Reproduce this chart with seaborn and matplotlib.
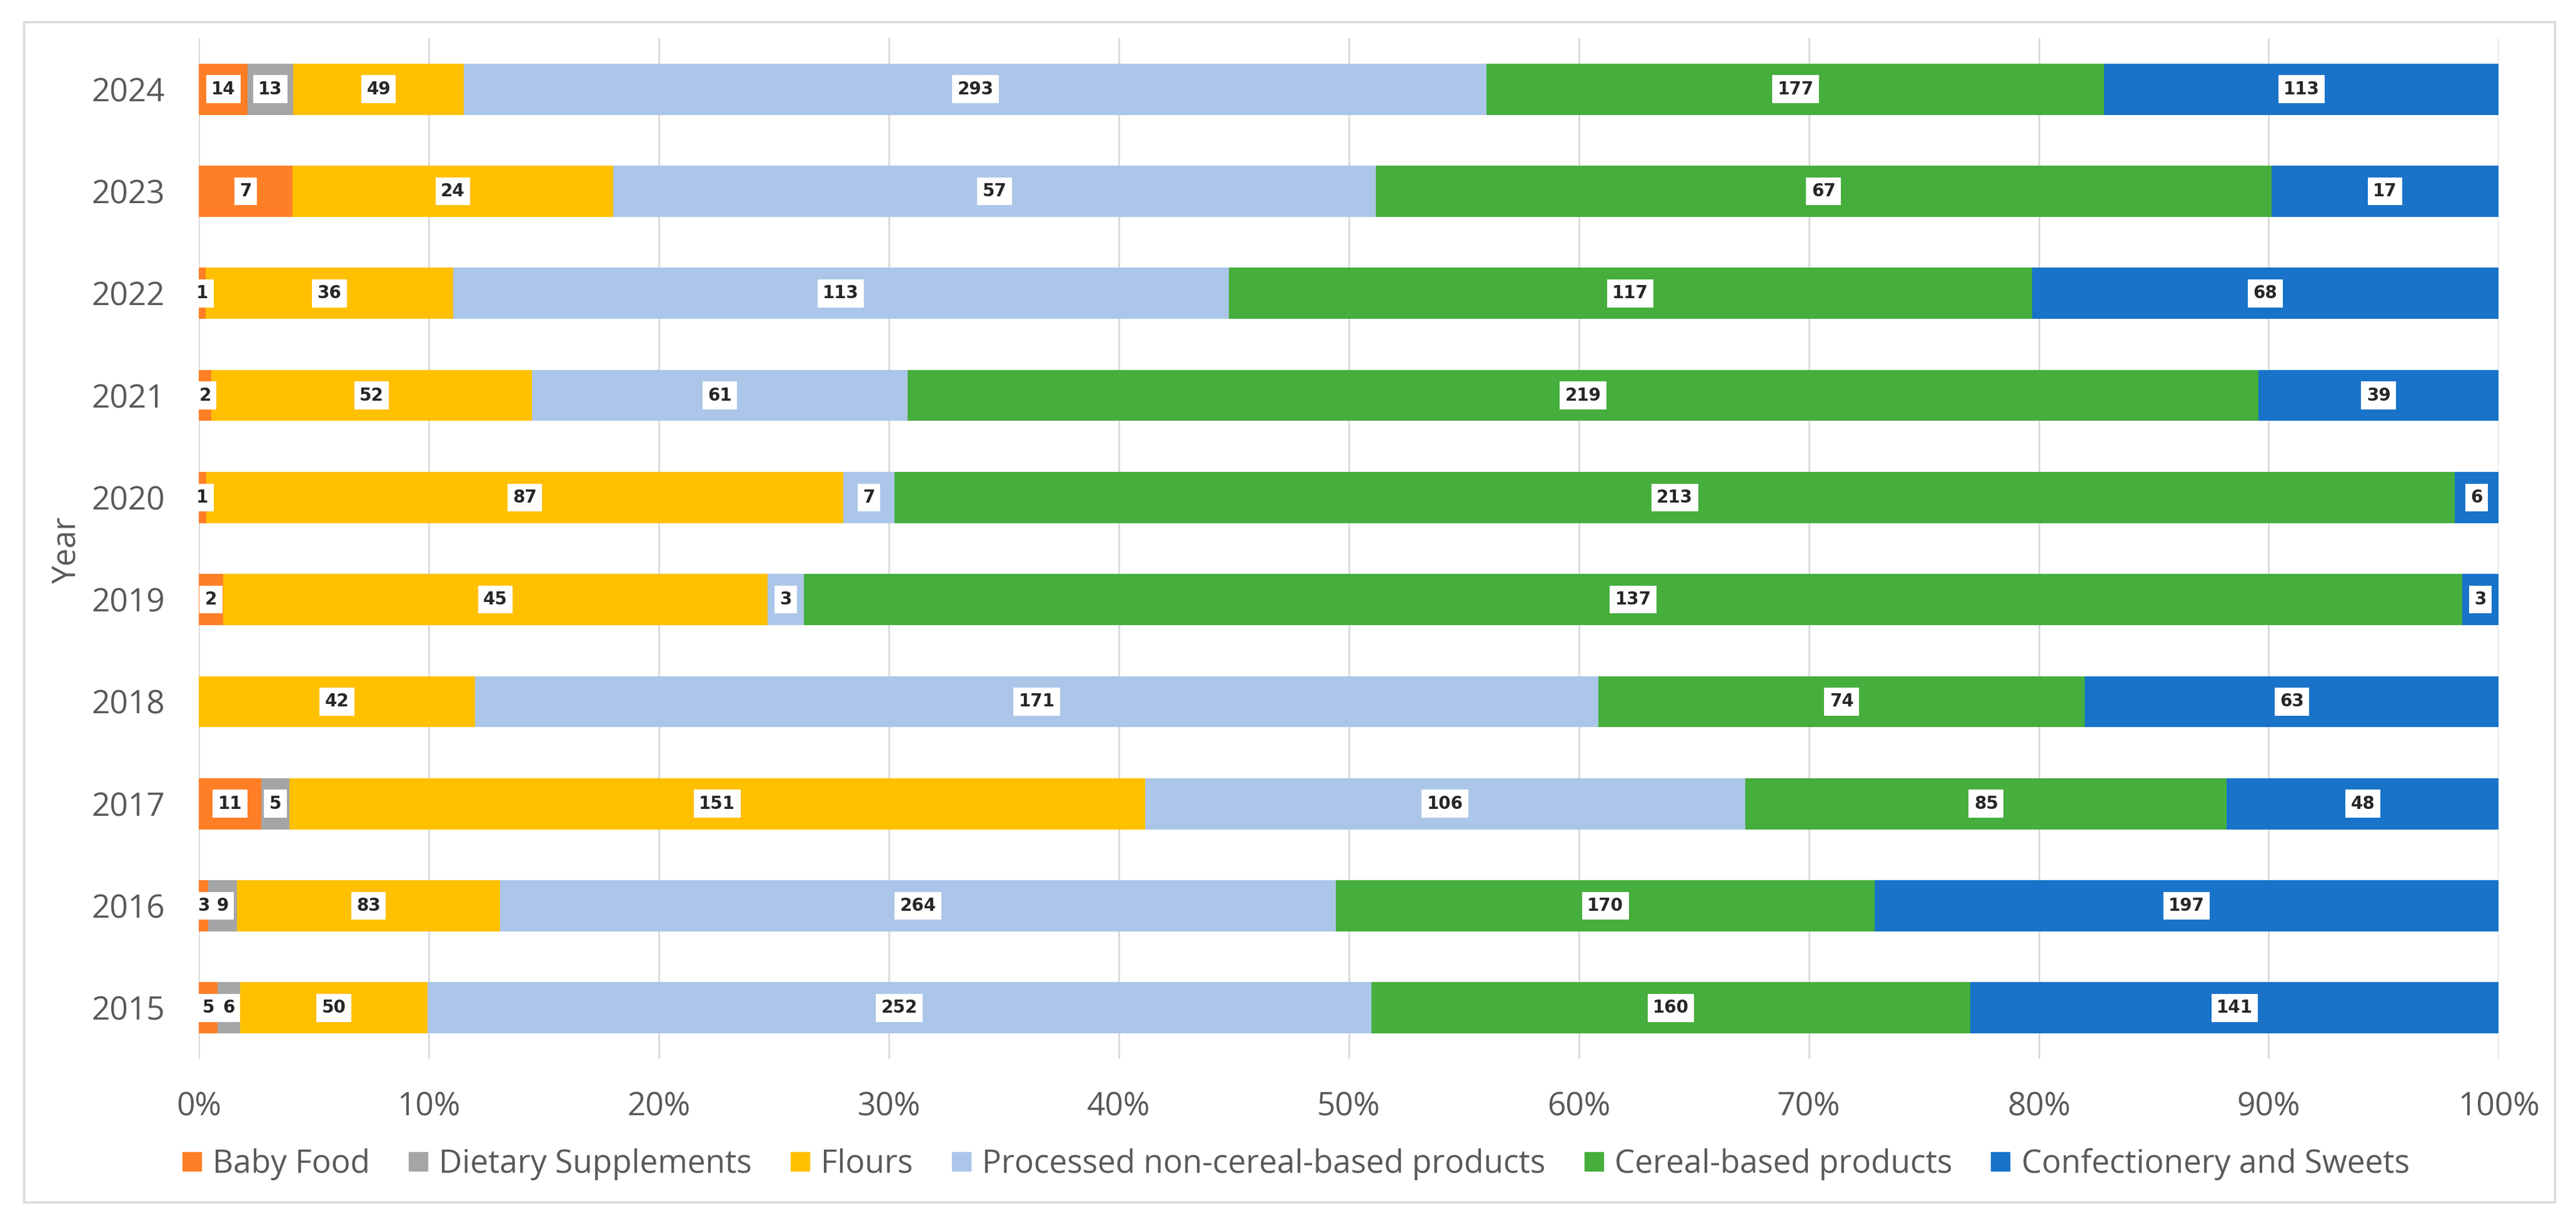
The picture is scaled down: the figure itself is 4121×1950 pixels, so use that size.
import numpy as np
import pandas as pd
import matplotlib
matplotlib.use("Agg")
import matplotlib.pyplot as plt
from matplotlib.lines import Line2D
from matplotlib.patches import Rectangle
import seaborn as sns

years = ["2024", "2023", "2022", "2021", "2020", "2019", "2018", "2017", "2016", "2015"]
categories = ["Baby Food", "Dietary Supplements", "Flours",
              "Processed non-cereal-based products", "Cereal-based products",
              "Confectionery and Sweets"]
baby_food = [14, 7, 1, 2, 1, 2, 0, 11, 3, 5]
dietary = [13, 0, 0, 0, 0, 0, 0, 5, 9, 6]
flours = [49, 24, 36, 52, 87, 45, 42, 151, 83, 50]
processed = [293, 57, 113, 61, 7, 3, 171, 106, 264, 252]
cereal = [177, 67, 117, 219, 213, 137, 74, 85, 170, 160]
confectionery = [113, 17, 68, 39, 6, 3, 63, 48, 197, 141]
colors = ["#FF7F27", "#A5A5A5", "#FFC000", "#ABC6E9", "#46AE3C", "#1873C9"]

sns.set_theme(style="white")
plt.rcParams["font.family"] = ["Open Sans", "DejaVu Sans"]

series = [baby_food, dietary, flours, processed, cereal, confectionery]
counts = np.array(series, dtype=float)          # (6, 10)
totals = counts.sum(axis=0)
pct = counts / totals * 100
cum = np.cumsum(pct, axis=0)

fig = plt.figure(figsize=(41.21, 19.5), dpi=100)
ax = fig.add_axes([0.0772, 0.1313, 0.8928, 0.8374])

# draw cumulative bars from the outermost inward so each segment shows
for i in range(len(categories) - 1, -1, -1):
    df = pd.DataFrame({"Year": years, "value": cum[i]})
    sns.barplot(data=df, x="value", y="Year", order=years, color=colors[i],
                orient="h", width=0.5, saturation=1, ax=ax, zorder=3,
                edgecolor="none", linewidth=0)

# data labels
for i in range(len(categories)):
    for j, yr in enumerate(years):
        if counts[i, j] > 0:
            xc = cum[i, j] - pct[i, j] / 2
            ax.text(xc, j, f"{int(counts[i, j])}", ha="center", va="center",
                    fontsize=20, fontweight="bold", color="#262626", zorder=5,
                    family=["DejaVu Sans"],
                    bbox=dict(boxstyle="square,pad=0.3", fc="white", ec="none"))

ax.set_xlim(0, 100)
ax.set_ylim(len(years) - 0.5, -0.5)
ax.set_xticks(np.arange(0, 101, 10))
ax.set_xticklabels([f"{v}%" for v in range(0, 101, 10)])
ax.grid(axis="x", color="#D9D9D9", linewidth=2, zorder=0)
ax.grid(axis="y", visible=False)
ax.set_axisbelow(True)
for s in ax.spines.values():
    s.set_visible(False)
ax.tick_params(axis="x", length=0, pad=37, labelsize=37, labelcolor="#595959")
ax.tick_params(axis="y", length=0, pad=39, labelsize=37, labelcolor="#595959")
ax.set_xlabel("")
ax.set_ylabel("")

fig.text(107 / 4121, 0.549, "Year", rotation=90, ha="center", va="center",
         fontsize=37, color="#595959")

handles = [Line2D([0], [0], marker="s", linestyle="none", markersize=22,
                  markerfacecolor=c, markeredgecolor=c) for c in colors]
fig.legend(handles, categories, loc="center", bbox_to_anchor=(0.503, 0.045),
           ncol=6, frameon=False, fontsize=37, labelcolor="#595959",
           handlelength=0.6, handletextpad=0.35, columnspacing=1.2)

fig.patches.append(Rectangle((0.0092, 0.0138), 0.9825, 0.968, transform=fig.transFigure,
                             fill=False, edgecolor="#D9D9D9", linewidth=2.5))

fig.savefig("out.png", dpi=100, facecolor="white")
